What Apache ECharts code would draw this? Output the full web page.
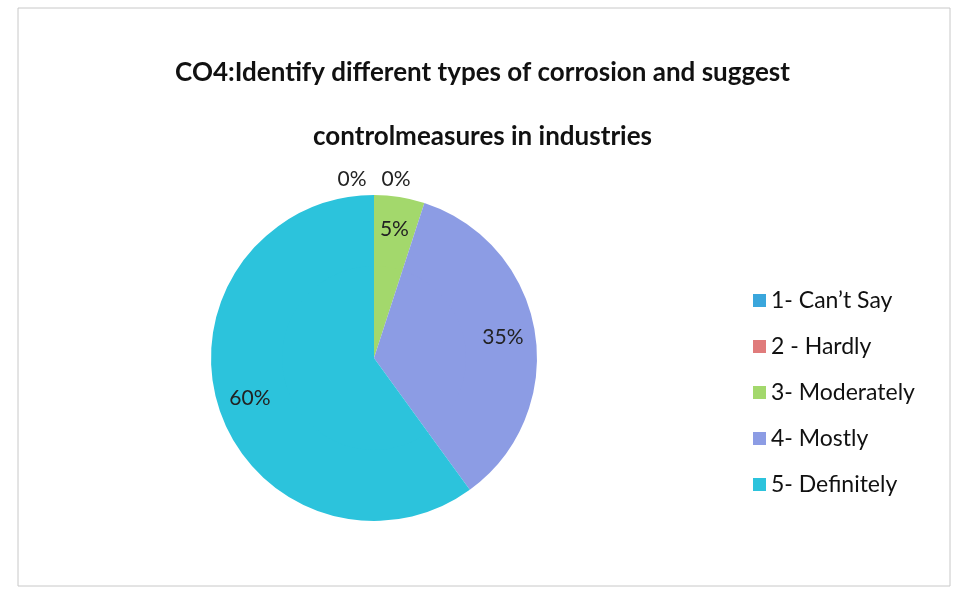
<!DOCTYPE html>
<html><head><meta charset="utf-8">
<script src="https://cdn.jsdelivr.net/npm/echarts@6/dist/echarts.min.js"></script>
<style>html,body{margin:0;padding:0;background:#fff}#c{width:965px;height:610px}</style>
</head><body><div id="c"></div>
<script>
const titleLines = ["CO4:Identify different types of corrosion and suggest", "controlmeasures in industries"];
const categories = ["1- Can\u2019t Say", "2 - Hardly", "3- Moderately", "4- Mostly", "5- Definitely"];
const values = [0, 0, 5, 35, 60];
const colors = ["#3aa6dc", "#e07b7b", "#a3d86c", "#8c9ce4", "#2cc3dc"];

const data = categories.map((c, i) => ({ name: c, value: values[i], itemStyle: { color: colors[i] } }));
const chart = echarts.init(document.getElementById('c'));
chart.setOption({
  backgroundColor: '#fff',
  animation: false,
  graphic: [{ type: 'rect', shape: { x: 18, y: 8, width: 932, height: 578 }, style: { fill: 'none', stroke: '#c8c8c8', lineWidth: 1 } }],
  title: {
    text: titleLines.join('\n'),
    left: 'center', top: 36,
    textStyle: { fontFamily: 'Lato', fontWeight: 'bold', fontSize: 26, color: '#111', lineHeight: 64 }
  },
  legend: {
    orient: 'vertical', left: 748, top: 284, itemGap: 23, itemWidth: 13, itemHeight: 13, icon: 'rect',
    data: categories,
    textStyle: { fontFamily: 'Lato', fontSize: 23, color: '#111' }
  },
  series: [
    { type: 'pie', silent: true, center: [374, 358], radius: [0, 93], startAngle: 90, clockwise: true,
      label: { show: false }, labelLine: { show: false }, data: data },
    { type: 'pie', center: [374, 358], radius: [92, 163], startAngle: 90, clockwise: true,
      avoidLabelOverlap: false,
      label: { show: true, position: 'inside', formatter: '{c}%', fontFamily: 'Lato', fontSize: 21, color: '#222' },
      labelLine: { show: false },
      labelLayout: function (p) {
        if (p.dataIndex === 0) return { dx: -22, dy: -48 };
        if (p.dataIndex === 1) return { dx: 22, dy: -48 };
        return {};
      },
      data: data }
  ]
});
</script></body></html>
